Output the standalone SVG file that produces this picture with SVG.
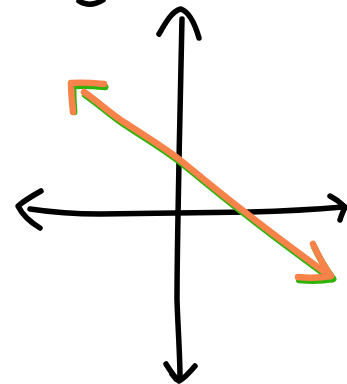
<svg xmlns="http://www.w3.org/2000/svg" width="347" height="384" viewBox="0 0 347 384">
<style>
.ink{fill:none;stroke:#000;stroke-width:5.5;stroke-linecap:round;stroke-linejoin:round}
.g{fill:none;stroke:#2fb30a;stroke-width:6.5;stroke-linecap:round;stroke-linejoin:round}
.o{fill:none;stroke:#f7834a;stroke-width:6.5;stroke-linecap:round;stroke-linejoin:round}
</style>
<rect width="347" height="384" fill="#fff"/>
<g id="scribble">
<path class="ink" d="M79,1 Q90,8 103,0" stroke-width="7"/>
</g>
<g id="y-axis">
<path class="ink" d="M182,19 C181,60 180,100 179,160 C178,220 177,260 177,300 C178,330 180,355 180,378"/>
<path class="ink" d="M159,34 C166,22 172,11 181,9 C189,12 195,24 199,38"/>
<path class="ink" d="M195,366 C190,372 185,378 179,381 C175,378 171,372 166,364 M172,374 L176,379"/>
</g>
<g id="x-axis">
<path class="ink" d="M30,209 C50,212 70,214 100,214 C150,213 200,213 250,212 C290,211 320,209 343,207"/>
<path class="ink" d="M41,191 C32,196 24,201 18,206 C22,214 30,222 40,228"/>
<path class="ink" d="M330,196 C336,199 341,203 345,207 C343,212 341,216 340,220"/>
</g>
<g id="line">
<g transform="translate(1.2,2)">
<path class="g" d="M84,93 C100,104 112,116 127,125 C145,137 165,149 180,161 C205,181 225,198 245,213 C265,229 285,244 330,277"/>
<path class="g" d="M73,110 C72,100 72,92 72,84 C83,83 94,84 104,85"/>
<path class="g" d="M313,245 C318,256 324,266 332,277 C321,279 308,279 298,278"/>
</g>
<path class="o" d="M84,92 C100,103 112,115 127,124 C145,136 165,148 180,160 C205,180 225,197 245,212 C265,228 285,243 330,276"/>
<path class="o" d="M73,112 C72,102 71,92 71,83 C82,82 94,83 104,84"/>
<path class="o" d="M313,244 C318,255 323,265 331,276 C320,278 308,278 298,277"/>
</g>
</svg>
